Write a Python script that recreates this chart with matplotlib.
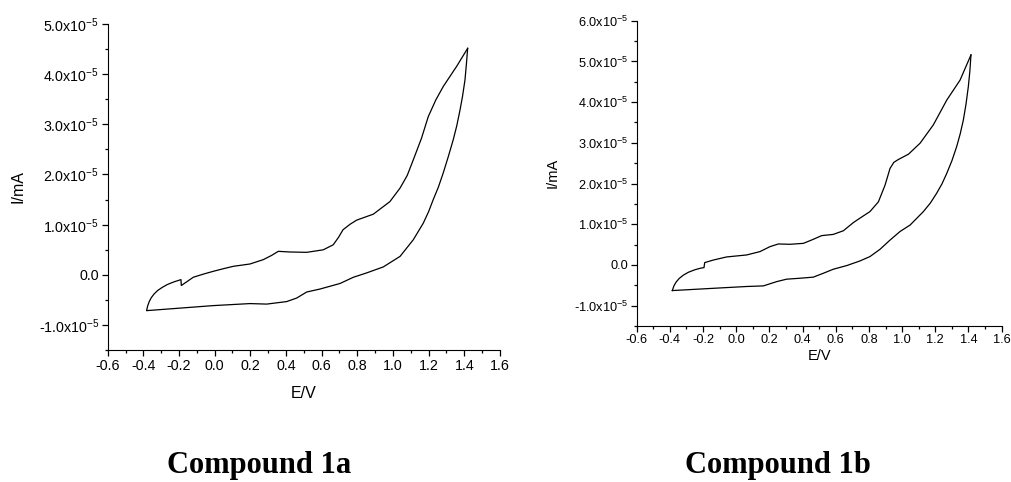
import matplotlib
matplotlib.use('Agg')
import matplotlib.pyplot as plt
from matplotlib.ticker import MultipleLocator, FuncFormatter

plt.rcParams['font.family'] = ['Liberation Sans', 'DejaVu Sans']
plt.rcParams['mathtext.fontset'] = 'custom'
plt.rcParams['mathtext.rm'] = 'Liberation Sans'
plt.rcParams['mathtext.it'] = 'Liberation Sans:italic'
plt.rcParams['mathtext.bf'] = 'Liberation Sans:bold'

# compound 1a, forward (upper) and reverse (lower) sweeps, current in units of 1e-5
e_1a_fwd = [-0.381, -0.376, -0.367, -0.355, -0.34, -0.32, -0.295, -0.265, -0.23, -0.189,
            -0.187, -0.15, -0.12, -0.06, -0.007, 0.05, 0.105, 0.198,
            0.273, 0.32, 0.357, 0.422, 0.516, 0.609, 0.665, 0.695, 0.72, 0.76, 0.796, 0.89, 0.983,
            1.04, 1.08, 1.114, 1.16, 1.198, 1.24, 1.282, 1.357, 1.419]
i_1a_fwd = [-0.70, -0.62, -0.53, -0.45, -0.38, -0.31, -0.25, -0.19, -0.14, -0.093,
            -0.21, -0.12, -0.046, 0.02, 0.073, 0.125, 0.172, 0.218,
            0.305, 0.39, 0.47, 0.457, 0.45, 0.50, 0.60, 0.75, 0.90, 1.01, 1.09, 1.21, 1.46,
            1.73, 1.98, 2.29, 2.72, 3.15, 3.48, 3.75, 4.15, 4.51]
e_1a_rev = [1.419, 1.412, 1.404, 1.39, 1.376, 1.358, 1.338, 1.31, 1.282, 1.255, 1.226, 1.2,
            1.17, 1.114, 1.04, 0.946, 0.852, 0.778, 0.703, 0.591, 0.516, 0.46, 0.404,
            0.292, 0.198, -0.007, -0.194, -0.381]
i_1a_rev = [4.51, 4.2, 3.88, 3.55, 3.28, 2.97, 2.69, 2.35, 2.03, 1.75, 1.50, 1.26,
            1.03, 0.70, 0.37, 0.16, 0.04, -0.046, -0.17, -0.28, -0.34, -0.46, -0.53,
            -0.58, -0.57, -0.61, -0.66, -0.71]

# compound 1b
e_1b_fwd = [-0.385, -0.376, -0.362, -0.343, -0.318, -0.288, -0.25, -0.215, -0.194, -0.190,
            -0.138, -0.058, 0.063, 0.143, 0.204, 0.254, 0.324, 0.405, 0.465, 0.515,
            0.585, 0.646, 0.706, 0.746, 0.806, 0.857, 0.897, 0.927, 0.95, 0.977, 1.038,
            1.108, 1.188, 1.269, 1.349, 1.415]
i_1b_fwd = [-0.63, -0.52, -0.42, -0.33, -0.25, -0.18, -0.12, -0.08, -0.065, 0.057,
            0.12, 0.196, 0.245, 0.327, 0.45, 0.515, 0.507, 0.53, 0.63, 0.72,
            0.75, 0.84, 1.04, 1.15, 1.31, 1.55, 1.96, 2.37, 2.52, 2.59, 2.72,
            2.99, 3.44, 4.05, 4.54, 5.16]
e_1b_rev = [1.415, 1.408, 1.399, 1.385, 1.369, 1.35, 1.329, 1.3, 1.269, 1.24, 1.208, 1.17,
            1.128, 1.048, 0.987, 0.927, 0.867, 0.806, 0.746, 0.666, 0.585, 0.525, 0.465,
            0.385, 0.304, 0.244, 0.164, 0.063, -0.118, -0.385]
i_1b_rev = [5.16, 4.75, 4.38, 3.95, 3.56, 3.22, 2.91, 2.56, 2.25, 1.99, 1.76, 1.52,
            1.31, 0.98, 0.82, 0.61, 0.385, 0.205, 0.098, -0.016, -0.106, -0.205, -0.30,
            -0.327, -0.35, -0.41, -0.515, -0.53, -0.57, -0.63]

titles = ['Compound 1a', 'Compound 1b']
y_tops = [5e-5, 6e-5]


def sci(v, pos):
    if abs(v) < 1e-12:
        return '0.0'
    return '%.1fx10$^{-5}$' % (v * 1e5)


def style(ax, ytop, tick_fs, label_fs, xlab_y):
    ax.set_xlim(-0.6, 1.6)
    ax.set_ylim(-1.5e-5, ytop)
    ax.spines['top'].set_visible(False)
    ax.spines['right'].set_visible(False)
    ax.xaxis.set_major_locator(MultipleLocator(0.2))
    ax.xaxis.set_minor_locator(MultipleLocator(0.1))
    ax.xaxis.set_major_formatter(FuncFormatter(lambda v, p: '%.1f' % v))
    ax.yaxis.set_major_locator(MultipleLocator(1e-5))
    ax.yaxis.set_minor_locator(MultipleLocator(0.5e-5))
    ax.yaxis.set_major_formatter(FuncFormatter(sci))
    ax.tick_params(which='major', direction='out', length=4, width=0.9, labelsize=tick_fs, pad=2)
    ax.tick_params(which='minor', direction='out', length=2.2, width=0.9)
    ax.set_xlabel('E/V', fontsize=label_fs, va='center')
    ax.set_ylabel('I/mA', fontsize=label_fs, va='center')
    ax.xaxis.set_label_coords(0.5, xlab_y)
    ax.yaxis.set_label_coords(-0.229, 0.5)


fig = plt.figure(figsize=(10.12, 4.82), dpi=100)
ax1 = fig.add_axes([0.1064, 0.2732, 0.3876, 0.6776])
ax2 = fig.add_axes([0.6291, 0.3237, 0.3607, 0.6333])

ax1.plot(e_1a_fwd, [v * 1e-5 for v in i_1a_fwd], color='black', lw=0.9)
ax1.plot(e_1a_rev, [v * 1e-5 for v in i_1a_rev], color='black', lw=0.9)
ax2.plot(e_1b_fwd, [v * 1e-5 for v in i_1b_fwd], color='black', lw=0.9)
ax2.plot(e_1b_rev, [v * 1e-5 for v in i_1b_rev], color='black', lw=0.9)

style(ax1, y_tops[0], 10.3, 11.5, -0.131)
style(ax2, y_tops[1], 9.2, 10.5, -0.098)

fig.text(0.256, 0.0187, titles[0], family='Liberation Serif', weight='bold',
         fontsize=22, ha='center', va='baseline')
fig.text(0.769, 0.0187, titles[1], family='Liberation Serif', weight='bold',
         fontsize=22, ha='center', va='baseline')

fig.savefig('out.png', dpi=100)
